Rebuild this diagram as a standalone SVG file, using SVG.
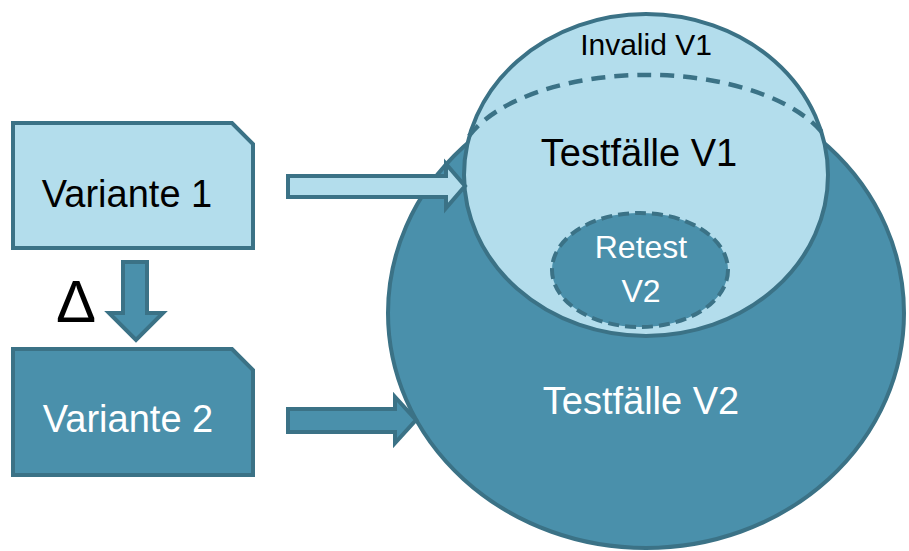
<svg xmlns="http://www.w3.org/2000/svg" width="909" height="551" viewBox="0 0 909 551">
<style>
.light{fill:#b3ddec;stroke:#3b7286;stroke-width:4}
.dark{fill:#4a90ab;stroke:#3b7286;stroke-width:4}
.dash{fill:none;stroke:#3b7286;stroke-width:4.5;stroke-dasharray:14 9}
.t{font-family:"Liberation Sans",Arial,sans-serif;text-anchor:middle}
.blk{fill:#000}
.wht{fill:#fff}
</style>
<rect width="909" height="551" fill="#fff"/>
<g id="testfaelle-v2">
<ellipse class="dark" cx="646" cy="313" rx="258" ry="235"/>
<text class="t wht" x="641" y="414" font-size="38">Testfälle V2</text>
</g>
<g id="testfaelle-v1">
<ellipse class="light" cx="646" cy="175" rx="182" ry="161"/>
<text class="t blk" x="639" y="166" font-size="38">Testfälle V1</text>
</g>
<g id="invalid-v1">
<path class="dash" d="M469 136 A190 94 0 0 1 825 136"/>
<text class="t blk" x="646" y="55" font-size="30">Invalid V1</text>
</g>
<g id="retest-v2">
<ellipse class="dark" cx="640" cy="270" rx="88" ry="57" style="stroke-dasharray:11 6"/>
<text class="t wht" x="641" y="258" font-size="32">Retest</text>
<text class="t wht" x="641" y="302" font-size="32">V2</text>
</g>
<g id="variante-1">
<path class="light" d="M13 123 H232 L253 144 V248 H13 Z"/>
<text class="t blk" x="127" y="207" font-size="38">Variante 1</text>
</g>
<g id="variante-2">
<path class="dark" d="M13 349 H232 L253 370 V475 H13 Z"/>
<text class="t wht" x="128" y="432" font-size="38">Variante 2</text>
</g>
<g id="connectors">
<path class="dark" d="M123 262 H147 V313 H163 L136 340 L109 313 H123 Z"/>
<text class="t blk" x="76" y="322" font-size="60">Δ</text>
<path class="light" d="M288 176 H446 V164 L465 186 L446 208 V197 H288 Z"/>
<path class="dark" d="M288 409 H395 V397 L416 420 L395 443 V432 H288 Z"/>
</g>
</svg>
